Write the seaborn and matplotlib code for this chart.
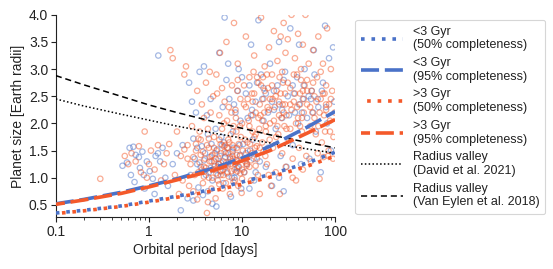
import numpy as np
import pandas as pd
import matplotlib
matplotlib.use("Agg")
import matplotlib.pyplot as plt
from matplotlib.ticker import FixedLocator, FixedFormatter, FormatStrFormatter
import seaborn as sns

# ---------------- data ----------------
young_P = [0.52,0.58,0.62,0.68,0.72,0.78,0.85,0.64,0.70,0.80,0.88,0.95,1.02,1.10,1.18,1.25,1.32,1.40,1.15,0.90,
           1.26,1.5,1.6,1.8,2.0,2.3,
           2.2,2.6,3.0,3.4,3.8,4.3,4.8,5.3,2.8,3.1,3.3,3.6,4.0,4.4,4.7,5.0,2.7,2.9,3.2,3.5,3.9,4.2,4.6,5.2,
           5.5,5.8,6.0,6.3,6.6,7.0,7.3,7.6,8.0,8.3,8.7,9.0,9.4,9.8,6.2,6.8,5.7,7.1,8.5,9.2,6.5,
           10.5,11,11.5,12,12.5,13,13.5,14,15,15.5,16,17,18,19,20,21,22,23,24,25,26,27,28,29,
           31,33,35,37,39,41,43,45,47,50,53,56,59,62,66,70,74,78,82,86,90,95,98,60,40,30,25,18,14,12,
           3.3,3.7,4.1,4.5,4.9,5.4,5.9,6.4,6.9,7.5,8.1,8.8,9.5,10.3,11.2,12.2,13.3,3.0,4.3,5.6,6.7,7.8,9.1,
           8.2,9.6,11,12.8,14.5,16.5,19,22,25,28,32,36,41,46,52,58,65,72,80,10,13,17,21,27,35,44,55,
           4.6,5.1,5.8,6.1,7.2,7.9,8.6,3.9,4.8,6.6]
young_R = [1.22,1.28,1.55,1.57,1.42,1.38,1.48,1.05,0.92,1.18,1.05,1.30,1.12,0.98,1.40,1.45,1.30,1.55,0.70,0.80,
           3.25,1.00,0.85,1.25,1.45,1.60,
           0.40,0.62,0.58,0.82,0.68,0.75,0.52,0.47,1.05,1.35,1.55,1.20,1.45,1.10,1.62,1.30,2.75,2.40,2.20,2.95,3.05,2.15,2.45,1.90,
           1.05,1.40,1.75,0.90,1.20,1.55,2.45,0.65,1.85,1.00,1.32,2.60,1.60,0.80,2.30,2.80,3.30,3.10,2.20,3.00,3.95,
           1.10,1.45,2.10,2.70,3.45,1.70,0.95,2.40,3.90,1.30,2.90,2.05,2.55,1.55,3.10,0.85,2.25,1.90,2.70,3.50,1.40,2.10,0.75,2.95,
           2.50,3.75,1.60,2.20,2.85,3.45,1.25,2.45,3.00,2.10,1.35,2.60,3.35,1.85,2.30,1.10,2.75,3.80,2.00,3.20,1.50,3.40,2.40,2.90,2.00,1.20,1.00,1.20,1.10,0.80,
           1.25,1.58,1.05,1.38,1.15,1.52,1.28,1.65,1.08,1.35,1.55,1.18,1.42,1.62,1.25,1.50,1.35,1.72,1.80,1.25,1.45,1.00,1.20,
           2.35,2.05,2.55,2.25,2.75,2.45,2.20,2.60,2.35,2.80,2.15,2.55,2.35,2.70,2.50,2.20,2.45,2.60,2.30,2.85,2.15,2.65,2.40,2.25,2.70,2.20,2.45,
           1.18,1.45,1.12,1.60,1.28,1.48,1.10,1.32,0.95,1.38]

old_P = [0.30,0.55,0.60,0.65,0.72,0.78,0.82,0.90,0.95,1.00,1.05,1.15,1.25,1.35,1.45,1.55,1.65,1.70,1.80,1.90,
         2.0,2.2,2.4,2.5,2.6,2.8,3.0,3.2,3.4,3.6,3.8,4.0,4.2,4.4,4.6,4.8,5.0,5.2,5.4,5.6,5.8,6.0,6.2,6.4,6.6,6.8,
         7.0,7.2,7.4,7.6,7.8,8.0,8.2,8.4,8.6,8.8,9.0,9.3,9.6,9.9,
         3.3,3.7,4.1,4.5,4.9,5.3,5.7,6.1,6.5,2.9,3.5,3.9,4.3,4.7,5.1,5.5,5.9,6.3,6.7,7.1,7.5,7.9,8.3,8.7,9.1,9.5,
         3.1,2.7,2.3,2.1,3.3,3.9,4.3,4.7,5.3,5.7,6.1,6.9,7.3,7.7,8.1,8.9,9.7,
         10,10.5,11,11.5,12,12.5,13,13.5,14,14.5,15,15.5,16,16.5,17,17.5,18,18.5,19,19.5,20,20.5,21,21.5,22,22.5,
         23,23.5,24,24.5,25,25.5,26,26.5,27,27.5,28,28.5,29,29.5,
         10.8,11.8,12.8,13.8,14.8,15.8,16.8,17.8,18.8,19.8,11.3,13.3,15.3,17.3,19.3,21.3,23.3,25.3,27.3,29.3,
         30,31,32,33,34,35,36,37,38,39,40,41,42,43,44,45,46,47,48,49,50,52,54,56,58,60,62,64,66,68,70,72,74,76,78,
         80,82,84,86,88,90,93,96,99,35,45,55,65,75,85,95,38,42,50,60,70,80,90,33,44,57,66,77,88,
         3.2,3.5,3.8,4.1,4.4,4.7,5.0,5.3,5.6,5.9,6.2,6.5,6.8,7.1,7.4,7.7,8.0,8.4,8.8,9.2,9.6,10.2,10.8,11.4,12.0,12.8,13.6,14.4,
         3.0,3.4,3.9,4.5,5.1,5.7,6.4,7.2,8.1,9.0,10.0,11.2,12.5,14.0,15.5,17.0,2.6,2.4,3.6,4.2,
         8.5,9.5,10.5,11.5,12.5,13.5,14.5,15.5,16.5,17.5,18.5,19.5,21,23,25,27,29,31,34,37,40,43,46,50,54,58,63,68,74,80,
         9,10,11,12,13,14,15,16,18,20,22,24,26,28,30,33,36,39,42,45,
         4.0,4.8,5.5,6.3,7.0,7.9,8.9,10.6,12.2,3.7,4.4,5.2,6.0,6.9]
old_R = [0.98,1.40,1.25,1.45,1.30,1.58,1.10,1.85,1.00,1.25,1.50,1.15,1.60,0.95,1.25,1.45,1.62,3.35,3.20,1.05,
         1.85,1.40,2.90,3.05,1.60,1.25,0.75,1.50,1.10,1.70,0.90,1.35,0.35,1.55,2.20,1.00,1.75,0.62,2.55,1.25,3.30,1.45,0.80,2.00,1.60,3.50,
         1.10,2.30,0.70,1.80,2.70,1.35,3.85,0.95,2.10,1.55,3.10,1.20,2.45,0.72,
         2.60,2.35,2.75,2.95,2.50,2.90,2.15,2.65,2.40,1.95,1.85,2.10,1.90,1.30,1.15,0.95,1.05,1.30,0.90,1.45,1.25,1.60,1.15,1.85,0.85,1.40,
         1.05,0.85,0.95,0.70,0.60,1.20,0.55,0.80,1.50,1.70,1.90,2.05,1.65,2.20,1.95,2.60,1.75,
         1.15,2.35,3.60,1.50,2.85,0.95,1.85,3.25,2.20,1.35,2.75,0.70,3.95,1.65,2.45,3.05,1.95,1.25,2.65,3.40,2.00,0.85,2.90,1.55,3.70,2.30,
         1.10,2.60,3.15,1.80,2.40,0.70,3.60,2.10,1.45,2.75,3.85,1.95,2.55,1.20,
         1.70,2.05,2.55,1.55,1.05,2.15,2.85,1.40,2.30,1.70,1.25,2.95,1.90,2.20,1.05,2.45,1.75,2.85,2.35,3.30,
         2.15,3.55,1.70,2.65,4.00,1.35,2.40,3.20,2.00,2.90,3.65,1.55,2.55,3.00,1.85,3.45,2.20,2.70,4.00,1.40,2.35,3.10,1.95,2.60,3.35,2.10,1.80,2.85,3.60,0.98,2.45,1.65,3.10,2.15,1.85,
         2.70,3.75,1.40,2.35,1.85,3.00,2.60,1.75,2.20,1.00,1.15,1.30,1.45,1.38,1.50,1.35,0.95,2.35,2.80,2.50,2.95,2.25,2.45,1.90,2.10,2.20,1.95,2.55,2.05,
         1.62,1.28,1.48,1.18,1.72,1.40,1.55,1.08,1.35,1.62,1.15,1.48,1.28,1.70,1.38,1.12,1.52,1.25,1.42,1.62,1.08,1.50,1.30,1.65,1.20,1.45,1.75,1.58,
         1.38,1.72,1.02,1.30,1.22,0.88,1.58,1.02,0.92,1.30,0.98,1.22,1.32,1.22,1.55,1.48,1.35,1.52,1.42,1.60,
         2.25,1.95,2.70,2.45,2.15,2.55,2.85,2.35,2.05,2.60,2.90,2.25,2.70,2.50,2.15,2.95,2.35,2.75,2.25,2.55,2.10,2.80,2.45,2.60,2.30,2.75,2.40,2.20,2.55,2.35,
         2.80,2.00,2.30,1.95,2.40,1.80,2.10,2.70,1.85,2.45,2.05,1.95,2.55,2.20,1.90,2.35,2.90,2.30,1.95,2.60,
         1.12,1.42,1.20,1.05,1.22,1.40,1.12,1.10,1.62,1.15,1.00,1.35,1.12,1.55]

curve_P = [0.1, 0.2, 0.5, 1, 2, 5, 10, 20, 50, 100]
young_50 = [0.35, 0.40, 0.48, 0.57, 0.66, 0.79, 0.92, 1.06, 1.27, 1.47]
young_95 = [0.52, 0.60, 0.73, 0.85, 0.98, 1.18, 1.36, 1.58, 1.93, 2.22]
old_50 = [0.34, 0.39, 0.47, 0.55, 0.64, 0.76, 0.88, 1.01, 1.21, 1.40]
old_95 = [0.51, 0.59, 0.71, 0.83, 0.96, 1.14, 1.31, 1.50, 1.82, 2.07]
david_R = [2.45, 2.32, 2.17, 2.06, 1.95, 1.82, 1.73, 1.64, 1.53, 1.45]
vaneylen_R = [2.88, 2.71, 2.50, 2.34, 2.20, 2.03, 1.91, 1.79, 1.65, 1.55]

x_ticks = [0.1, 1, 10, 100]
x_ticklabels = ["0.1", "1", "10", "100"]
y_ticks = [0.5, 1.0, 1.5, 2.0, 2.5, 3.0, 3.5, 4.0]

labels = ["<3 Gyr\n(50% completeness)", "<3 Gyr\n(95% completeness)",
          ">3 Gyr\n(50% completeness)", ">3 Gyr\n(95% completeness)",
          "Radius valley\n(David et al. 2021)", "Radius valley\n(Van Eylen et al. 2018)"]

# ---------------- style ----------------
sns.set_theme(style="ticks")
plt.rcParams['font.family'] = ['Liberation Sans', 'DejaVu Sans']
FS = 10
LFS = 9
BLUE = "#4a72c8"
ORANGE = "#f4592a"
TXT = "#222222"

fig = plt.figure(figsize=(5.53, 2.69), dpi=100)
ax = fig.add_axes([0.101, 0.192, 0.505, 0.753])

young_df = pd.DataFrame({"P": young_P, "R": young_R})
old_df = pd.DataFrame({"P": old_P, "R": old_R})

sns.scatterplot(data=young_df, x="P", y="R", ax=ax, marker="o", s=15,
                facecolor="none", edgecolor=BLUE, linewidth=0.9, alpha=0.5, zorder=2)
sns.scatterplot(data=old_df, x="P", y="R", ax=ax, marker="o", s=15,
                facecolor="none", edgecolor=ORANGE, linewidth=0.9, alpha=0.5, zorder=2)

cdf = pd.DataFrame({"P": curve_P, "y50": young_50, "y95": young_95,
                    "o50": old_50, "o95": old_95, "dav": david_R, "vey": vaneylen_R})

h1, = ax.plot(cdf.P, cdf.y50, color=BLUE, lw=2.6, ls=(0, (1, 1.9)), label=labels[0], zorder=4)
h2, = ax.plot(cdf.P, cdf.y95, color=BLUE, lw=2.6, ls=(0, (5, 1.6)), label=labels[1], zorder=4)
h3, = ax.plot(cdf.P, cdf.o50, color=ORANGE, lw=2.6, ls=(1.2, (1, 1.9)), label=labels[2], zorder=5)
h4, = ax.plot(cdf.P, cdf.o95, color=ORANGE, lw=2.6, ls=(2.5, (5, 1.6)), label=labels[3], zorder=5)
h5, = ax.plot(cdf.P, cdf.dav, color="black", lw=1.1, ls=(0, (1, 1.5)), label=labels[4], zorder=3)
h6, = ax.plot(cdf.P, cdf.vey, color="black", lw=1.1, ls=(0, (4, 2.5)), label=labels[5], zorder=3)

ax.set_xscale("log")
ax.set_xlim(0.1, 100)
ax.set_ylim(0.27, 4.0)
ax.xaxis.set_major_locator(FixedLocator(x_ticks))
ax.xaxis.set_major_formatter(FixedFormatter(x_ticklabels))
ax.set_yticks(y_ticks)
ax.yaxis.set_major_formatter(FormatStrFormatter("%.1f"))
ax.tick_params(axis="both", which="major", labelsize=FS, length=3.5, width=0.8, pad=2, colors=TXT)
ax.tick_params(axis="x", which="minor", length=2, width=0.6, color=TXT)
ax.set_xlabel("Orbital period [days]", fontsize=FS, labelpad=3, color=TXT)
ax.set_ylabel("Planet size [Earth radii]", fontsize=FS, labelpad=3, color=TXT)
sns.despine(ax=ax)
for s in ["left", "bottom"]:
    ax.spines[s].set_color(TXT)
    ax.spines[s].set_linewidth(0.8)

leg = fig.legend(handles=[h1, h2, h3, h4, h5, h6], loc="upper left",
                 bbox_to_anchor=(0.642, 0.926), bbox_transform=fig.transFigure,
                 fontsize=LFS, frameon=True, handlelength=3.4, handletextpad=0.8,
                 labelspacing=0.45, borderpad=0.45, borderaxespad=0)
leg.get_frame().set_edgecolor("#cccccc")
leg.get_frame().set_linewidth(0.8)
for t in leg.get_texts():
    t.set_color(TXT)

fig.savefig("out.png", dpi=100)
